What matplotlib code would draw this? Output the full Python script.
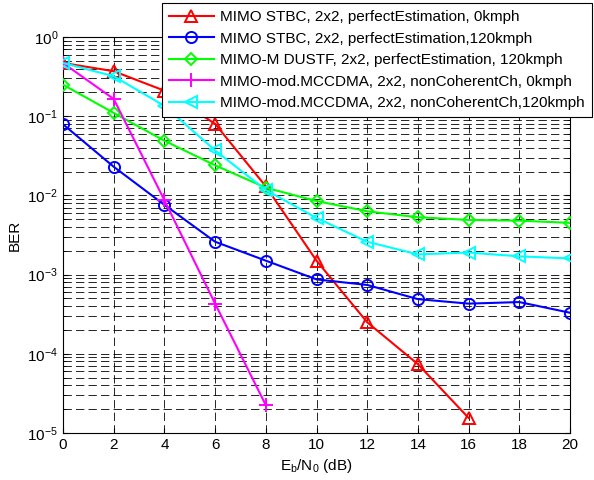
import matplotlib
matplotlib.use("Agg")
import numpy as np
import matplotlib.pyplot as plt
from matplotlib.ticker import LogLocator, FixedLocator

plt.rcParams["font.family"] = ["Liberation Sans", "DejaVu Sans"]
plt.rcParams["mathtext.fontset"] = "custom"
plt.rcParams["mathtext.rm"] = "Liberation Sans"
plt.rcParams["mathtext.it"] = "Liberation Sans:italic"

snr = [0, 2, 4, 6, 8, 10, 12, 14, 16, 18, 20]

stbc_0 = [0.47, 0.37, 0.21, 0.08, 0.013, 0.0015, 2.5e-4, 7.4e-5, 1.55e-5]
stbc_120 = [0.079, 0.023, 0.0076, 0.0026, 0.0015, 8.7e-4, 7.4e-4, 4.9e-4, 4.3e-4, 4.5e-4, 3.3e-4]
dustf_120 = [0.25, 0.11, 0.049, 0.024, 0.0125, 0.0085, 0.0063, 0.0053, 0.0049, 0.0048, 0.0045]
mccdma_0 = [0.47, 0.165, 0.0087, 4.3e-4, 2.25e-5]
mccdma_120 = [0.47, 0.32, 0.135, 0.037, 0.0117, 0.0052, 0.0026, 0.0018, 0.0019, 0.0017, 0.0016]

labels = [
    "MIMO STBC, 2x2, perfectEstimation, 0kmph",
    "MIMO STBC, 2x2, perfectEstimation,120kmph",
    "MIMO-M DUSTF, 2x2, perfectEstimation, 120kmph",
    "MIMO-mod.MCCDMA, 2x2, nonCoherentCh, 0kmph",
    "MIMO-mod.MCCDMA, 2x2, nonCoherentCh,120kmph",
]

fig = plt.figure(figsize=(5.94, 4.8), dpi=100)
ax = fig.add_axes([63 / 594, 47 / 480, 507 / 594, 396 / 480])

series = [
    (stbc_0, "#ff0000", "^", 8.5),
    (stbc_120, "#0000ff", "o", 8),
    (dustf_120, "#00ff00", "D", 6.5),
    (mccdma_0, "#ff00ff", "+", 10),
    (mccdma_120, "#00ffff", "<", 8.5),
]
for (vals, c, m, ms), lab in zip(series, labels):
    ax.semilogy(snr[:len(vals)], vals, color=c, marker=m, ms=ms, lw=1.5,
                mfc="none", mec=c, mew=1.4, label=lab, zorder=3)

ax.set_xlim(0, 20)
ax.set_ylim(1e-5, 1)
ax.xaxis.set_major_locator(FixedLocator(np.arange(0, 21, 2)))
ax.yaxis.set_major_locator(LogLocator(base=10, numticks=10))
ax.yaxis.set_minor_locator(LogLocator(base=10, subs=np.arange(2, 10), numticks=10))
ax.grid(True, which="major", color="k", lw=0.6, ls=(0, (10, 5)))
ax.grid(True, which="minor", axis="y", color="k", lw=0.6, ls=(0, (10, 5)))
ax.tick_params(which="both", direction="in", top=True, right=True, labelsize=11)
ax.tick_params(which="minor", labelleft=False)
for s in ax.spines.values():
    s.set_linewidth(0.8)

ax.set_xlabel("E$_\\mathrm{b}$/N$_\\mathrm{0}$ (dB)", fontsize=11, labelpad=4)
ax.set_ylabel("BER", fontsize=11)

leg = ax.legend(loc="upper right", bbox_to_anchor=(592 / 594, 1 - 3 / 480),
                bbox_transform=fig.transFigure, borderaxespad=0, fontsize=11,
                fancybox=False, framealpha=1, edgecolor="k", handlelength=3.0,
                labelspacing=0.5, borderpad=0.45, handletextpad=0.4)
leg.get_frame().set_linewidth(0.8)
leg.set_zorder(5)

fig.savefig("out.png", dpi=100)
